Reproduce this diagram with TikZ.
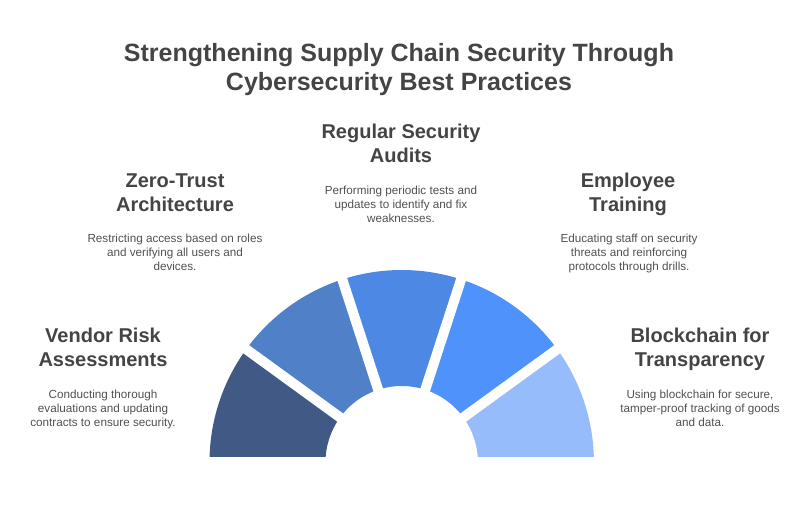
\documentclass[tikz,border=0pt]{standalone}
\usepackage{fontspec}
\setmainfont{Liberation Sans}
\definecolor{segA}{HTML}{405A85}
\definecolor{segB}{HTML}{5080C8}
\definecolor{segC}{HTML}{4D89E4}
\definecolor{segD}{HTML}{5092FC}
\definecolor{segE}{HTML}{97BCFC}
\definecolor{ttl}{HTML}{444444}
\definecolor{dsc}{HTML}{505050}
\begin{document}
\begin{tikzpicture}[x=1pt,y=1pt,
  titletext/.style={text=ttl,font=\fontsize{25}{29}\selectfont\bfseries,align=center,anchor=base,inner sep=0},
  headtext/.style={text=ttl,font=\fontsize{20}{24}\selectfont\bfseries,align=center,anchor=base,inner sep=0},
  desctext/.style={text=dsc,font=\fontsize{11.7}{14}\selectfont,align=center,anchor=base,inner sep=0},
  gapline/.style={white,line width=10pt}]
\useasboundingbox (0,0) rectangle (811,-506);
\coordinate (C) at (401.7,-462.2);
\begin{scope}
\clip (0,-456.7) rectangle (811,0);
\fill[segA,shift={(C)}] (180:192.2pt) arc[start angle=180,end angle=144,radius=192.2pt] -- (144:76.2pt) arc[start angle=144,end angle=180,radius=76.2pt] -- cycle;
\fill[segB,shift={(C)}] (144:192.2pt) arc[start angle=144,end angle=108,radius=192.2pt] -- (108:76.2pt) arc[start angle=108,end angle=144,radius=76.2pt] -- cycle;
\fill[segC,shift={(C)}] (108:192.2pt) arc[start angle=108,end angle=72,radius=192.2pt] -- (72:76.2pt) arc[start angle=72,end angle=108,radius=76.2pt] -- cycle;
\fill[segD,shift={(C)}] (72:192.2pt) arc[start angle=72,end angle=36,radius=192.2pt] -- (36:76.2pt) arc[start angle=36,end angle=72,radius=76.2pt] -- cycle;
\fill[segE,shift={(C)}] (36:192.2pt) arc[start angle=36,end angle=0,radius=192.2pt] -- (0:76.2pt) arc[start angle=0,end angle=36,radius=76.2pt] -- cycle;
\draw[gapline,shift={(C)}] (144:60pt) -- (144:200pt);
\draw[gapline,shift={(C)}] (108:60pt) -- (108:200pt);
\draw[gapline,shift={(C)}] (72:60pt) -- (72:200pt);
\draw[gapline,shift={(C)}] (36:60pt) -- (36:200pt);
\end{scope}
\node[titletext] (title) at (399,-90) {Strengthening Supply Chain Security Through\\Cybersecurity Best Practices};
\node[headtext] (h3) at (401,-162) {Regular Security\\Audits};
\node[desctext] (d3) at (401,-222) {Performing periodic tests and\\updates to identify and fix\\weaknesses.};
\node[headtext] (h2) at (175,-211) {Zero-Trust\\Architecture};
\node[desctext] (d2) at (175,-270) {Restricting access based on roles\\and verifying all users and\\devices.};
\node[headtext] (h4) at (628,-211) {Employee\\Training};
\node[desctext] (d4) at (629,-270) {Educating staff on security\\threats and reinforcing\\protocols through drills.};
\node[headtext] (h1) at (103,-366) {Vendor Risk\\Assessments};
\node[desctext] (d1) at (103,-426) {Conducting thorough\\evaluations and updating\\contracts to ensure security.};
\node[headtext] (h5) at (700,-366) {Blockchain for\\Transparency};
\node[desctext] (d5) at (700,-426) {Using blockchain for secure,\\tamper-proof tracking of goods\\and data.};
\end{tikzpicture}
\end{document}
